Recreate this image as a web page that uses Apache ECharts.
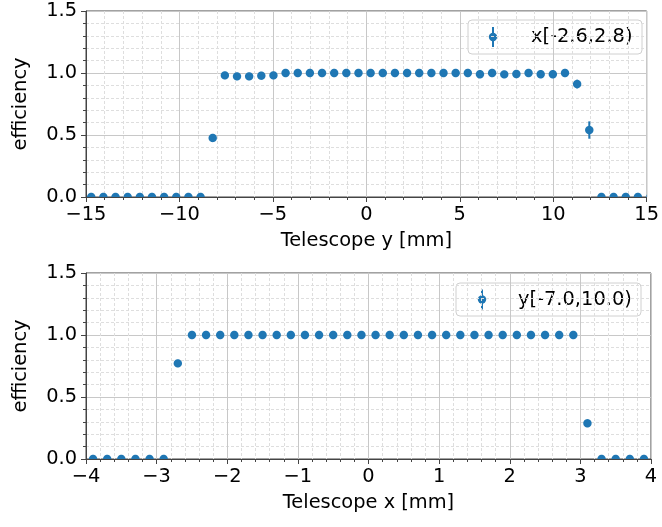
<!DOCTYPE html>
<html>
<head>
<meta charset="utf-8">
<script src="https://cdn.jsdelivr.net/npm/echarts@6/dist/echarts.min.js"></script>
<style>
html, body { margin: 0; padding: 0; background: #fff; }
#efficiencyChart { width: 662px; height: 527px; }
</style>
</head>
<body>
<div id="efficiencyChart"></div>
<script>
// top panel: efficiency vs telescope y, for x in [-2.6, 2.8)
const topX = [-14.72, -14.07, -13.42, -12.77, -12.12, -11.47, -10.82, -10.17, -9.52, -8.87,
    -8.22, -7.57, -6.92, -6.27, -5.62, -4.97, -4.32, -3.67, -3.02, -2.37,
    -1.72, -1.07, -0.42, 0.23, 0.88, 1.53, 2.18, 2.83, 3.48, 4.13,
    4.78, 5.43, 6.08, 6.73, 7.38, 8.03, 8.68, 9.33, 9.98, 10.63,
    11.28, 11.93, 12.58, 13.23, 13.88, 14.53, 15.18]
const topEff = [0, 0, 0, 0, 0, 0, 0, 0, 0, 0,
    0.476, 0.981, 0.973, 0.973, 0.978, 0.981, 1.0, 1.0, 1.0, 1.0,
    1.0, 1.0, 1.0, 1.0, 1.0, 1.0, 1.0, 1.0, 1.0, 1.0,
    1.0, 1.0, 0.99, 1.0, 0.989, 0.992, 1.0, 0.99, 0.99, 1.0,
    0.911, 0.54, 0, 0, 0, 0, 0]
const topErr = [0, 0, 0, 0, 0, 0, 0, 0, 0, 0,
    0.02, 0.008, 0.008, 0.008, 0.008, 0.008, 0, 0, 0, 0,
    0, 0, 0, 0, 0, 0, 0, 0, 0, 0,
    0, 0, 0.005, 0, 0.005, 0.005, 0, 0.005, 0.005, 0,
    0.035, 0.07, 0, 0, 0, 0, 0]
const topLabel = 'x[-2.6,2.8)'

// bottom panel: efficiency vs telescope x, for y in [-7.0, 10.0)
const bottomX = [-3.9, -3.7, -3.5, -3.3, -3.1, -2.9, -2.7, -2.5, -2.3, -2.1,
    -1.9, -1.7, -1.5, -1.3, -1.1, -0.9, -0.7, -0.5, -0.3, -0.1,
    0.1, 0.3, 0.5, 0.7, 0.9, 1.1, 1.3, 1.5, 1.7, 1.9,
    2.1, 2.3, 2.5, 2.7, 2.9, 3.1, 3.3, 3.5, 3.7, 3.9]
const bottomEff = [0, 0, 0, 0, 0, 0, 0.771, 1.0, 1.0, 1.0,
    1.0, 1.0, 1.0, 1.0, 1.0, 1.0, 1.0, 1.0, 1.0, 1.0,
    1.0, 1.0, 1.0, 1.0, 1.0, 1.0, 1.0, 1.0, 1.0, 1.0,
    1.0, 1.0, 1.0, 1.0, 1.0, 0.288, 0, 0, 0, 0]
const bottomErr = [0, 0, 0, 0, 0, 0, 0.02, 0, 0, 0,
    0, 0, 0, 0, 0, 0, 0, 0, 0, 0,
    0, 0, 0, 0, 0, 0, 0, 0, 0, 0,
    0, 0, 0, 0, 0, 0.02, 0, 0, 0, 0]
const bottomLabel = 'y[-7.0,10.0)'

const yTicks = [0, 0.5, 1.0, 1.5]

const pointColor = '#1f77b4'
const spineColor = '#444'
const font = 'DejaVu Sans'
const fontSize = 19.4
const markerRadius = 4.2

// circle as a polygon, clamped to the plot area (like matplotlib clipping the markers)
function clippedCircle(cx, cy, r, box) {
    const pts = []
    for (let i = 0; i < 36; i++) {
        const a = i / 36 * Math.PI * 2
        let px = cx + r * Math.cos(a)
        let py = cy + r * Math.sin(a)
        px = Math.min(Math.max(px, box.x), box.x + box.width)
        py = Math.min(Math.max(py, box.y), box.y + box.height)
        pts.push([px, py])
    }
    return pts
}

function renderErrorPoint(params, api) {
    const box = params.coordSys
    const x = api.value(0)
    const y = api.value(1)
    const err = api.value(2)
    const c = api.coord([x, y])
    const lo = api.coord([x, y - err])
    const hi = api.coord([x, y + err])
    const children = [
        { type: 'polygon', shape: { points: clippedCircle(c[0], c[1], markerRadius, box) }, style: { fill: pointColor } },
    ]
    if (err > 0) {
        children.unshift({ type: 'line', shape: { x1: c[0], y1: lo[1], x2: c[0], y2: hi[1] }, style: { stroke: pointColor, lineWidth: 2 } })
    }
    return { type: 'group', children: children }
}

function minusSign(v) {
    return String(v).replace('-', '\u2212')
}

function makeXAxis(gridIndex, min, max, interval, name) {
    return {
        gridIndex: gridIndex,
        type: 'value',
        min: min,
        max: max,
        interval: interval,
        name: name,
        nameLocation: 'middle',
        nameGap: 34,
        nameTextStyle: { color: '#000', fontFamily: font, fontSize: fontSize },
        axisLine: { show: true, onZero: false, lineStyle: { color: spineColor } },
        axisTick: { show: true, length: 5, lineStyle: { color: spineColor } },
        minorTick: { show: true, splitNumber: 5, length: 3, lineStyle: { color: spineColor } },
        axisLabel: { color: '#000', fontFamily: font, fontSize: fontSize, margin: 8, formatter: minusSign },
        splitLine: { show: true, lineStyle: { color: '#c8c8c8' } },
        minorSplitLine: { show: true, lineStyle: { color: '#dedede', type: [3, 2] } },
    }
}

function makeYAxis(gridIndex) {
    return {
        gridIndex: gridIndex,
        type: 'value',
        min: yTicks[0],
        max: yTicks[yTicks.length - 1],
        interval: 0.5,
        name: 'efficiency',
        nameLocation: 'middle',
        nameGap: 56,
        nameTextStyle: { color: '#000', fontFamily: font, fontSize: fontSize },
        axisLine: { show: true, onZero: false, lineStyle: { color: spineColor } },
        axisTick: { show: true, length: 5, lineStyle: { color: spineColor } },
        minorTick: { show: true, splitNumber: 5, length: 3, lineStyle: { color: spineColor } },
        axisLabel: { color: '#000', fontFamily: font, fontSize: fontSize, margin: 9, formatter: (v) => v.toFixed(1) },
        splitLine: { show: true, lineStyle: { color: '#c8c8c8' } },
        minorSplitLine: { show: true, lineStyle: { color: '#dedede', type: [3, 2] } },
    }
}

function makeLegend(x, y, w, h, markerX, textX, label) {
    const cy = y + h / 2
    return {
        type: 'group',
        z: 100,
        children: [
            { type: 'rect', shape: { x: x, y: y, width: w, height: h, r: 4 }, style: { fill: 'rgba(255,255,255,0.85)', stroke: '#d0d0d0', lineWidth: 1 } },
            { type: 'line', shape: { x1: markerX, y1: cy - 10, x2: markerX, y2: cy + 10 }, style: { stroke: pointColor, lineWidth: 2 } },
            { type: 'circle', shape: { cx: markerX, cy: cy, r: markerRadius }, style: { fill: pointColor } },
            { type: 'text', x: textX, y: cy, style: { text: label, fill: '#000', font: fontSize + 'px "' + font + '"', verticalAlign: 'middle' } },
        ]
    }
}

function pack(xs, ys, errs) {
    return xs.map((x, i) => [x, ys[i], errs[i]])
}

const chartOptions = {
    animation: false,
    backgroundColor: '#fff',
    grid: [
        { left: 86, top: 11, width: 565, height: 186, show: true, borderColor: spineColor, borderWidth: 1 },
        { left: 86, top: 273, width: 565, height: 186, show: true, borderColor: spineColor, borderWidth: 1 },
    ],
    xAxis: [
        makeXAxis(0, -15, 15, 5, 'Telescope y [mm]'),
        makeXAxis(1, -4, 4, 1, 'Telescope x [mm]'),
    ],
    yAxis: [
        makeYAxis(0),
        makeYAxis(1),
    ],
    series: [
        {
            name: topLabel,
            type: 'custom',
            xAxisIndex: 0,
            yAxisIndex: 0,
            clip: true,
            renderItem: renderErrorPoint,
            data: pack(topX, topEff, topErr),
        },
        {
            name: bottomLabel,
            type: 'custom',
            xAxisIndex: 1,
            yAxisIndex: 1,
            clip: true,
            renderItem: renderErrorPoint,
            data: pack(bottomX, bottomEff, bottomErr),
        },
    ],
    graphic: [
        makeLegend(468, 20, 174, 34, 493, 531, topLabel),
        makeLegend(456, 283, 185, 33, 482, 518, bottomLabel),
    ],
}

const chart = echarts.init(document.getElementById('efficiencyChart'), null, { renderer: 'canvas' })
chart.setOption(chartOptions)
</script>
</body>
</html>
